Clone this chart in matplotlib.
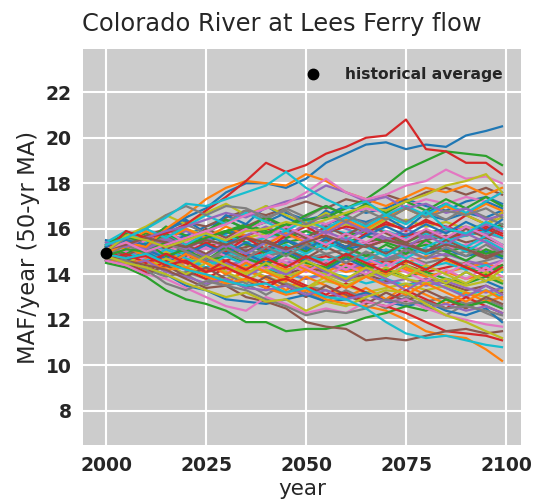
import matplotlib
matplotlib.use("Agg")
import matplotlib.pyplot as plt

# Simulated 50-yr moving-average flow traces (MAF/year), sampled every 5 years
years = [2000, 2005, 2010, 2015, 2020, 2025, 2030, 2035, 2040, 2045, 2050,
         2055, 2060, 2065, 2070, 2075, 2080, 2085, 2090, 2095, 2099]

# upper traces
trace_01 = [15.2, 15.5, 15.3, 15.9, 16.5, 16.9, 17.6, 18.0, 18.0, 17.8, 18.2, 18.9, 19.3, 19.7, 19.8, 19.5, 19.7, 19.6, 20.1, 20.3, 20.5]
trace_02 = [14.9, 15.4, 15.2, 16.0, 16.6, 17.3, 17.8, 18.1, 18.0, 17.9, 18.4, 18.1, 17.6, 17.3, 17.0, 17.4, 17.8, 17.6, 17.9, 17.5, 17.8]
trace_03 = [14.8, 15.1, 15.0, 15.4, 15.2, 15.6, 15.9, 16.1, 15.8, 16.2, 16.4, 16.5, 16.9, 17.3, 17.9, 18.6, 19.0, 19.4, 19.3, 19.2, 18.8]
trace_04 = [15.0, 15.9, 15.6, 15.8, 16.2, 16.8, 17.4, 18.1, 18.9, 18.5, 18.8, 19.3, 19.6, 20.0, 20.1, 20.8, 19.5, 19.4, 18.9, 18.9, 18.4]
trace_05 = [15.4, 15.2, 15.6, 15.9, 16.1, 16.4, 16.7, 16.5, 16.9, 17.2, 17.4, 17.9, 17.6, 17.2, 17.4, 16.9, 17.1, 16.7, 16.9, 16.4, 16.6]
trace_06 = [15.1, 15.3, 15.6, 15.4, 15.2, 15.5, 15.3, 15.6, 15.4, 15.1, 15.4, 15.7, 15.4, 15.2, 15.5, 15.3, 15.0, 15.3, 15.1, 14.8, 15.0]
trace_07 = [15.1, 15.4, 15.0, 15.3, 15.6, 15.9, 16.2, 16.6, 16.9, 17.1, 17.6, 18.2, 17.6, 17.3, 17.5, 17.9, 18.1, 18.6, 18.2, 18.3, 18.0]
trace_08 = [15.0, 15.6, 16.0, 16.6, 17.0, 16.6, 17.0, 16.9, 16.5, 16.8, 16.2, 16.6, 16.3, 16.8, 16.4, 16.9, 16.5, 16.8, 16.6, 16.9, 16.5]
trace_09 = [15.0, 15.7, 15.5, 15.2, 15.5, 15.8, 15.5, 15.9, 16.0, 16.3, 16.1, 16.4, 16.7, 17.0, 16.8, 17.2, 17.5, 17.9, 18.1, 18.4, 17.6]
trace_10 = [15.3, 15.6, 16.0, 16.5, 17.1, 17.0, 17.3, 17.6, 17.9, 18.5, 17.8, 17.3, 16.9, 17.2, 16.6, 16.2, 16.8, 16.0, 15.8, 16.3, 16.0]

# lower traces
trace_11 = [14.6, 14.5, 14.3, 14.0, 13.5, 13.3, 12.9, 12.8, 12.7, 12.9, 13.1, 12.8, 12.9, 13.2, 12.8, 12.6, 12.8, 12.4, 12.2, 12.5, 11.9]
trace_12 = [14.7, 14.5, 14.6, 14.2, 14.3, 13.9, 13.6, 13.8, 13.4, 13.1, 13.3, 12.9, 12.7, 12.6, 12.4, 12.0, 11.5, 11.3, 11.2, 10.7, 10.2]
trace_13 = [14.5, 14.3, 13.9, 13.3, 12.9, 12.7, 12.4, 11.9, 11.9, 11.5, 11.6, 11.6, 11.8, 12.1, 12.3, 12.6, 12.4, 12.9, 12.6, 12.8, 12.5]
trace_14 = [15.0, 14.7, 14.8, 14.4, 14.6, 14.1, 14.3, 13.9, 13.6, 13.8, 13.4, 13.0, 13.2, 12.8, 12.6, 12.3, 11.9, 11.5, 11.4, 11.3, 11.1]
trace_15 = [14.9, 14.4, 14.6, 14.1, 13.9, 13.6, 13.8, 13.4, 13.3, 13.5, 13.1, 13.3, 12.9, 13.1, 12.8, 12.9, 12.5, 12.7, 12.4, 12.6, 12.3]
trace_16 = [14.8, 14.6, 14.4, 14.2, 13.8, 13.4, 13.5, 13.0, 12.8, 12.5, 11.9, 11.7, 11.6, 11.1, 11.2, 11.1, 11.3, 11.5, 11.6, 11.4, 11.5]
trace_17 = [14.6, 14.4, 14.0, 13.8, 13.4, 13.0, 12.6, 12.4, 13.0, 12.7, 12.3, 12.5, 12.3, 12.8, 12.6, 12.9, 12.5, 12.2, 12.0, 11.8, 11.7]
trace_18 = [14.7, 14.6, 14.2, 13.6, 13.3, 13.7, 13.5, 13.3, 12.9, 12.6, 12.2, 12.4, 12.3, 12.5, 12.9, 12.7, 12.8, 12.5, 12.6, 12.4, 12.2]
trace_19 = [14.8, 14.5, 14.3, 14.0, 13.6, 13.3, 13.0, 13.2, 12.8, 12.9, 12.4, 12.8, 12.6, 13.0, 13.3, 13.2, 12.7, 12.2, 11.9, 11.5, 11.2]
trace_20 = [14.9, 14.7, 14.9, 14.5, 14.2, 14.0, 13.7, 13.5, 13.6, 13.2, 13.4, 13.0, 12.9, 12.5, 11.9, 11.4, 11.2, 11.3, 11.1, 10.9, 10.8]

# central traces
trace_21 = [15.2, 15.6, 15.4, 15.9, 15.7, 16.1, 16.4, 16.0, 16.3, 16.7, 16.4, 16.6, 17.0, 16.7, 16.9, 17.3, 17.0, 16.8, 17.2, 17.4, 17.1]
trace_22 = [14.9, 15.1, 14.7, 14.9, 14.6, 14.8, 14.4, 14.6, 14.5, 14.2, 14.4, 14.1, 14.5, 14.2, 14.0, 14.3, 13.9, 14.1, 13.8, 14.0, 13.7]
trace_23 = [15.0, 14.8, 15.1, 15.3, 15.0, 15.2, 15.5, 15.3, 15.1, 15.4, 15.6, 15.3, 15.7, 15.9, 15.6, 15.4, 15.8, 16.0, 15.7, 15.9, 16.2]
trace_24 = [14.7, 14.9, 15.2, 14.9, 15.1, 14.8, 14.6, 14.9, 14.7, 14.4, 14.6, 14.8, 14.5, 14.3, 14.6, 14.4, 14.1, 14.3, 14.5, 14.2, 14.4]
trace_25 = [15.3, 15.0, 15.4, 15.6, 15.9, 15.6, 15.8, 16.1, 15.8, 15.6, 15.9, 16.2, 16.0, 15.7, 15.5, 15.8, 15.6, 15.9, 16.1, 15.8, 15.6]
trace_26 = [14.8, 15.0, 14.7, 14.5, 14.8, 14.6, 14.3, 14.5, 14.2, 14.0, 14.3, 14.1, 13.8, 14.0, 13.7, 13.5, 13.8, 13.6, 13.3, 13.5, 13.2]
trace_27 = [15.1, 15.4, 15.2, 15.0, 15.3, 15.5, 15.2, 15.4, 15.7, 15.5, 15.2, 15.4, 15.1, 15.3, 15.0, 15.2, 14.9, 15.1, 15.3, 15.0, 15.2]
trace_28 = [14.6, 14.8, 15.0, 14.8, 14.5, 14.7, 14.9, 14.6, 14.8, 15.0, 14.7, 14.9, 15.1, 14.8, 14.6, 14.9, 15.1, 14.8, 15.0, 14.7, 14.9]
trace_29 = [15.4, 15.7, 15.5, 15.8, 16.0, 15.7, 15.9, 15.6, 15.8, 16.1, 16.3, 16.0, 16.2, 15.9, 16.1, 16.4, 16.1, 16.3, 16.0, 16.2, 16.5]
trace_30 = [14.9, 14.6, 14.8, 14.5, 14.3, 14.6, 14.4, 14.1, 14.3, 14.0, 13.8, 14.1, 13.9, 13.6, 13.8, 13.5, 13.7, 13.4, 13.1, 13.3, 13.0]
trace_31 = [15.0, 15.3, 15.6, 15.4, 15.7, 15.5, 15.8, 16.0, 16.3, 16.1, 16.4, 16.2, 16.5, 16.3, 16.6, 16.9, 16.6, 16.4, 16.7, 16.5, 16.8]
trace_32 = [14.8, 14.6, 14.9, 14.7, 15.0, 14.8, 14.5, 14.3, 14.6, 14.4, 14.7, 14.5, 14.2, 14.4, 14.7, 14.5, 14.8, 14.6, 14.3, 14.5, 14.2]
trace_33 = [15.2, 15.0, 14.8, 15.1, 14.9, 14.6, 14.8, 14.5, 14.7, 14.4, 14.2, 14.5, 14.3, 14.0, 14.2, 13.9, 14.1, 13.8, 13.6, 13.9, 13.6]
trace_34 = [15.0, 15.2, 15.5, 15.3, 15.6, 15.8, 15.5, 15.7, 16.0, 15.8, 15.5, 15.8, 16.1, 15.9, 16.2, 16.0, 16.3, 16.1, 15.8, 16.0, 15.7]
trace_35 = [14.7, 14.5, 14.7, 14.4, 14.6, 14.3, 14.5, 14.2, 13.9, 14.1, 13.8, 14.0, 13.7, 13.9, 13.6, 13.8, 13.5, 13.7, 13.4, 13.2, 13.4]
trace_36 = [15.3, 15.1, 15.4, 15.2, 15.5, 15.3, 15.0, 15.2, 15.4, 15.1, 15.3, 15.5, 15.2, 15.4, 15.6, 15.3, 15.5, 15.7, 15.4, 15.6, 15.3]
trace_37 = [14.9, 15.2, 14.9, 15.1, 15.4, 15.1, 15.3, 15.6, 15.4, 15.7, 15.5, 15.8, 15.6, 15.3, 15.5, 15.2, 15.4, 15.1, 15.3, 15.5, 15.2]
trace_38 = [15.1, 14.9, 15.1, 14.8, 15.0, 14.7, 14.9, 15.1, 14.8, 15.0, 14.8, 14.5, 14.7, 14.9, 14.6, 14.8, 14.5, 14.7, 14.4, 14.6, 14.8]
trace_39 = [14.8, 15.0, 14.8, 15.0, 14.7, 14.5, 14.2, 14.4, 14.1, 13.9, 14.2, 14.0, 13.7, 13.9, 14.1, 13.8, 13.6, 13.8, 13.5, 13.7, 13.9]
trace_40 = [15.0, 15.3, 15.1, 15.4, 15.2, 15.5, 15.7, 15.4, 15.6, 15.9, 15.7, 16.0, 15.8, 16.1, 15.9, 15.6, 15.8, 15.5, 15.7, 15.9, 15.6]
trace_41 = [15.5, 15.3, 15.6, 15.8, 15.5, 15.7, 15.4, 15.6, 15.3, 15.5, 15.2, 15.4, 15.1, 15.3, 15.0, 15.2, 14.9, 15.1, 14.8, 15.0, 14.7]
trace_42 = [14.6, 14.4, 14.6, 14.3, 14.5, 14.2, 14.4, 14.1, 14.3, 14.5, 14.2, 14.4, 14.1, 14.3, 14.0, 14.2, 13.9, 14.1, 14.3, 14.0, 14.2]
trace_43 = [15.2, 15.5, 15.8, 15.5, 15.3, 15.6, 15.9, 16.2, 15.9, 15.6, 15.9, 15.6, 15.4, 15.7, 15.4, 15.1, 15.3, 15.0, 15.2, 14.9, 15.1]
trace_44 = [14.9, 14.7, 14.5, 14.8, 15.0, 15.3, 15.1, 14.8, 15.0, 15.2, 15.0, 15.3, 15.5, 15.2, 15.5, 15.7, 15.9, 15.6, 15.8, 16.1, 15.8]
trace_45 = [15.1, 15.3, 15.0, 14.8, 14.5, 14.7, 14.4, 14.6, 14.8, 14.5, 14.7, 14.4, 14.2, 14.5, 14.7, 15.0, 14.7, 14.9, 14.6, 14.4, 14.6]
trace_46 = [15.0, 15.4, 15.7, 16.0, 16.3, 16.1, 16.5, 16.8, 16.6, 16.9, 17.2, 16.9, 17.3, 17.1, 17.5, 17.2, 17.6, 17.8, 17.5, 17.8, 17.5]
trace_47 = [14.8, 15.1, 15.3, 15.1, 15.5, 15.8, 15.6, 16.0, 16.3, 16.0, 16.4, 16.2, 16.6, 16.9, 16.7, 17.0, 17.3, 17.1, 17.4, 17.2, 17.6]
trace_48 = [14.7, 14.4, 14.2, 13.9, 14.1, 13.8, 13.5, 13.7, 13.4, 13.2, 13.5, 13.3, 13.0, 13.2, 12.9, 13.1, 12.8, 13.0, 12.7, 12.9, 12.6]
trace_49 = [14.9, 14.7, 14.4, 14.6, 14.3, 14.0, 13.8, 14.1, 13.9, 13.6, 13.4, 13.7, 13.5, 13.2, 13.4, 13.6, 13.3, 13.5, 13.2, 13.0, 13.3]
trace_50 = [15.2, 15.0, 15.3, 15.1, 14.9, 15.2, 15.0, 14.7, 14.9, 15.1, 14.8, 14.6, 14.9, 14.7, 14.4, 14.6, 14.3, 14.5, 14.2, 14.4, 14.1]
trace_51 = [15.0, 15.6, 15.2, 15.9, 16.4, 15.8, 16.6, 16.2, 17.0, 16.5, 16.1, 16.8, 16.3, 15.9, 16.5, 16.0, 16.7, 17.1, 16.6, 17.2, 16.9]
trace_52 = [14.8, 14.3, 14.7, 14.1, 14.6, 14.0, 13.6, 14.2, 13.8, 13.3, 13.9, 13.5, 13.0, 13.4, 12.9, 13.5, 13.1, 12.7, 13.2, 12.8, 13.0]
trace_53 = [15.3, 15.8, 15.4, 16.1, 15.7, 15.3, 15.9, 15.4, 14.9, 15.5, 15.0, 15.6, 15.2, 14.8, 15.3, 14.9, 15.5, 15.0, 14.6, 15.1, 14.8]
trace_54 = [14.9, 15.3, 14.8, 14.4, 14.9, 15.4, 15.0, 15.6, 15.1, 15.7, 16.1, 15.6, 15.2, 15.8, 16.3, 15.9, 16.4, 16.0, 16.6, 16.2, 16.7]
trace_55 = [15.1, 14.7, 15.2, 14.8, 14.3, 14.8, 14.3, 13.9, 14.4, 14.0, 14.6, 14.1, 13.7, 14.2, 13.8, 13.3, 13.8, 13.4, 13.0, 13.5, 13.1]
trace_56 = [14.7, 15.2, 15.6, 15.1, 15.5, 16.0, 15.6, 16.1, 16.5, 16.0, 15.6, 16.1, 15.7, 16.2, 15.8, 15.4, 15.9, 15.5, 16.0, 15.6, 16.1]
trace_57 = [15.4, 15.0, 14.6, 15.1, 14.7, 15.2, 14.8, 14.4, 14.9, 14.5, 14.1, 14.6, 14.2, 14.7, 14.3, 14.8, 14.4, 14.0, 14.5, 14.1, 14.6]
trace_58 = [15.0, 14.5, 14.9, 14.4, 14.0, 13.5, 14.0, 13.6, 13.1, 13.6, 13.2, 12.8, 13.3, 12.9, 12.5, 13.0, 12.6, 12.2, 12.7, 12.3, 12.0]
trace_59 = [15.2, 15.7, 16.1, 16.6, 16.2, 16.7, 17.1, 16.6, 17.0, 16.6, 16.2, 16.7, 16.3, 15.9, 16.4, 16.9, 16.5, 17.0, 16.6, 16.2, 16.7]
trace_60 = [14.6, 15.0, 14.6, 15.1, 14.7, 14.3, 14.8, 14.4, 14.9, 15.3, 14.9, 15.4, 15.0, 14.6, 15.1, 14.7, 15.2, 15.6, 15.2, 15.7, 15.3]
trace_61 = [15.1, 15.5, 15.1, 14.7, 15.2, 14.8, 15.3, 14.9, 14.5, 15.0, 14.6, 14.2, 14.7, 14.3, 13.9, 14.4, 14.0, 13.6, 14.1, 13.7, 13.4]
trace_62 = [14.9, 15.4, 15.9, 15.5, 16.0, 15.6, 16.1, 15.7, 15.3, 15.8, 15.4, 15.9, 16.4, 16.0, 16.5, 16.9, 16.5, 17.0, 16.6, 17.1, 16.8]
trace_63 = [15.3, 14.9, 15.4, 14.8, 15.1, 14.6, 15.2, 14.7, 14.4, 14.9, 14.5, 14.3, 14.8, 14.4, 14.1, 14.6, 14.2, 14.7, 14.3, 14.0, 14.4]
trace_64 = [14.8, 14.5, 14.1, 14.6, 14.2, 13.8, 14.3, 13.9, 13.4, 13.9, 13.5, 13.1, 13.6, 13.2, 12.8, 13.3, 12.9, 12.5, 13.0, 12.6, 12.3]
trace_65 = [15.0, 15.4, 15.0, 15.5, 15.1, 15.6, 15.2, 15.7, 16.1, 15.7, 16.2, 15.8, 16.3, 15.9, 15.5, 16.0, 15.6, 16.1, 15.7, 16.2, 15.9]
trace_66 = [15.2, 14.8, 15.3, 15.7, 15.3, 14.9, 15.4, 15.0, 15.5, 15.1, 14.7, 15.2, 14.8, 15.3, 14.9, 15.4, 15.0, 15.5, 15.1, 14.7, 15.0]
trace_67 = [14.7, 14.3, 14.8, 14.4, 14.9, 14.5, 14.1, 14.6, 14.2, 14.7, 14.3, 13.9, 14.4, 14.0, 14.5, 14.1, 13.7, 14.2, 13.8, 14.3, 13.9]
trace_68 = [15.1, 15.6, 15.2, 15.7, 16.2, 15.8, 16.3, 16.8, 16.4, 16.9, 16.5, 17.0, 16.6, 16.2, 16.7, 16.3, 16.8, 16.4, 16.9, 16.5, 16.2]
trace_69 = [14.9, 14.5, 14.9, 14.4, 14.0, 14.5, 14.1, 13.7, 14.2, 13.8, 13.4, 13.9, 13.5, 13.9, 14.3, 13.9, 14.4, 14.0, 13.6, 14.1, 13.7]
trace_70 = [15.4, 15.9, 15.4, 15.8, 15.3, 15.8, 15.4, 14.9, 15.4, 15.0, 15.5, 15.1, 15.6, 15.2, 14.8, 15.3, 14.9, 15.4, 15.0, 15.5, 15.1]
trace_71 = [15.0, 14.6, 15.0, 14.5, 14.9, 15.3, 14.9, 15.4, 15.0, 15.5, 15.1, 15.6, 15.2, 15.7, 16.1, 15.7, 16.2, 15.8, 16.3, 15.9, 16.4]
trace_72 = [14.8, 15.2, 14.8, 14.4, 14.9, 14.5, 14.0, 14.5, 14.1, 13.7, 14.2, 13.8, 13.4, 13.9, 13.5, 13.1, 13.6, 13.2, 12.8, 13.3, 12.9]
trace_73 = [15.2, 15.7, 15.3, 15.8, 15.4, 15.9, 16.4, 16.0, 16.5, 16.1, 16.6, 17.0, 16.6, 17.1, 16.7, 17.2, 16.8, 17.3, 16.9, 17.4, 17.0]
trace_74 = [14.6, 14.9, 14.5, 14.9, 14.5, 14.1, 14.6, 14.2, 14.7, 14.3, 14.8, 14.4, 14.9, 14.5, 14.1, 14.6, 14.2, 14.7, 14.3, 13.9, 14.3]
trace_75 = [15.1, 15.5, 15.1, 15.6, 15.2, 14.8, 15.3, 14.9, 15.4, 15.0, 15.5, 15.9, 15.5, 16.0, 15.6, 15.2, 15.7, 15.3, 15.8, 15.4, 15.0]
trace_76 = [14.9, 14.5, 14.0, 14.4, 13.9, 14.3, 13.8, 13.4, 13.9, 13.5, 13.0, 13.5, 13.1, 12.7, 13.2, 12.8, 13.3, 12.9, 12.5, 13.0, 12.7]
trace_77 = [15.3, 15.0, 15.5, 15.9, 15.4, 15.9, 15.5, 16.0, 15.6, 16.1, 15.7, 15.3, 15.8, 15.4, 15.9, 15.5, 16.0, 15.6, 16.1, 15.7, 15.3]
trace_78 = [14.8, 15.3, 14.9, 15.4, 15.0, 14.6, 15.1, 14.7, 15.2, 14.8, 15.3, 14.9, 14.5, 15.0, 14.6, 15.1, 14.7, 15.2, 14.8, 15.3, 14.9]
trace_79 = [15.0, 14.6, 14.2, 14.7, 14.3, 14.8, 14.4, 14.0, 14.5, 14.1, 14.6, 14.2, 13.8, 14.3, 13.9, 14.4, 14.0, 13.6, 14.1, 13.7, 14.2]
trace_80 = [15.1, 15.6, 16.0, 15.6, 16.1, 16.6, 16.2, 16.7, 16.3, 15.9, 16.4, 16.0, 16.5, 16.1, 16.6, 17.0, 16.6, 17.1, 16.7, 17.2, 17.6]

upper_traces = [trace_01, trace_02, trace_03, trace_04, trace_05,
                trace_06, trace_07, trace_08, trace_09, trace_10]
lower_traces = [trace_11, trace_12, trace_13, trace_14, trace_15,
                trace_16, trace_17, trace_18, trace_19, trace_20]
central_traces = [trace_21, trace_22, trace_23, trace_24, trace_25, trace_26, trace_27, trace_28, trace_29, trace_30,
                  trace_31, trace_32, trace_33, trace_34, trace_35, trace_36, trace_37, trace_38, trace_39, trace_40,
                  trace_41, trace_42, trace_43, trace_44, trace_45, trace_46, trace_47, trace_48, trace_49, trace_50,
                  trace_51, trace_52, trace_53, trace_54, trace_55, trace_56, trace_57, trace_58, trace_59, trace_60,
                  trace_61, trace_62, trace_63, trace_64, trace_65, trace_66, trace_67, trace_68, trace_69, trace_70,
                  trace_71, trace_72, trace_73, trace_74, trace_75, trace_76, trace_77, trace_78, trace_79, trace_80]

hist_year = 2000
hist_avg = 14.95

x_ticks = [2000, 2025, 2050, 2075, 2100]
y_ticks = [8, 10, 12, 14, 16, 18, 20, 22]

fig = plt.figure(figsize=(5.36, 5.04), dpi=100)
ax = fig.add_axes([83 / 536, 59 / 504, 438 / 536, 396 / 504])
ax.set_facecolor("#cccccc")

# each group restarts the default colour cycle
for group in (central_traces, lower_traces, upper_traces):
    ax.set_prop_cycle(None)
    for tr in group:
        ax.plot(years, tr, lw=1.6)

ax.plot([hist_year], [hist_avg], "o", color="black", ms=7.5,
        label="historical average", zorder=5)

ax.set_xlim(1994.25, 2103.75)
ax.set_ylim(6.5, 23.9)
ax.set_xticks(x_ticks)
ax.set_yticks(y_ticks)
ax.grid(True, color="white", lw=1.5)
ax.set_axisbelow(True)
for s in ax.spines.values():
    s.set_visible(False)
ax.tick_params(length=0, labelsize=13.5, colors="#262626", pad=8)
for lab in ax.get_xticklabels() + ax.get_yticklabels():
    lab.set_fontweight("bold")

ax.set_xlabel("year", fontsize=15.5, color="#262626", labelpad=3)
ax.set_ylabel("MAF/year (50-yr MA)", fontsize=16.3, color="#262626", labelpad=4)
fig.text(281.5 / 536, 1 - 24 / 504, "Colorado River at Lees Ferry flow",
         fontsize=17.4, color="#262626", ha="center", va="center")

leg = ax.legend(loc="upper right", frameon=False, handletextpad=1.1,
                borderaxespad=0.76, prop={"weight": "bold", "size": 11.2})
for t in leg.get_texts():
    t.set_color("#262626")

fig.savefig("out.png", dpi=100)
